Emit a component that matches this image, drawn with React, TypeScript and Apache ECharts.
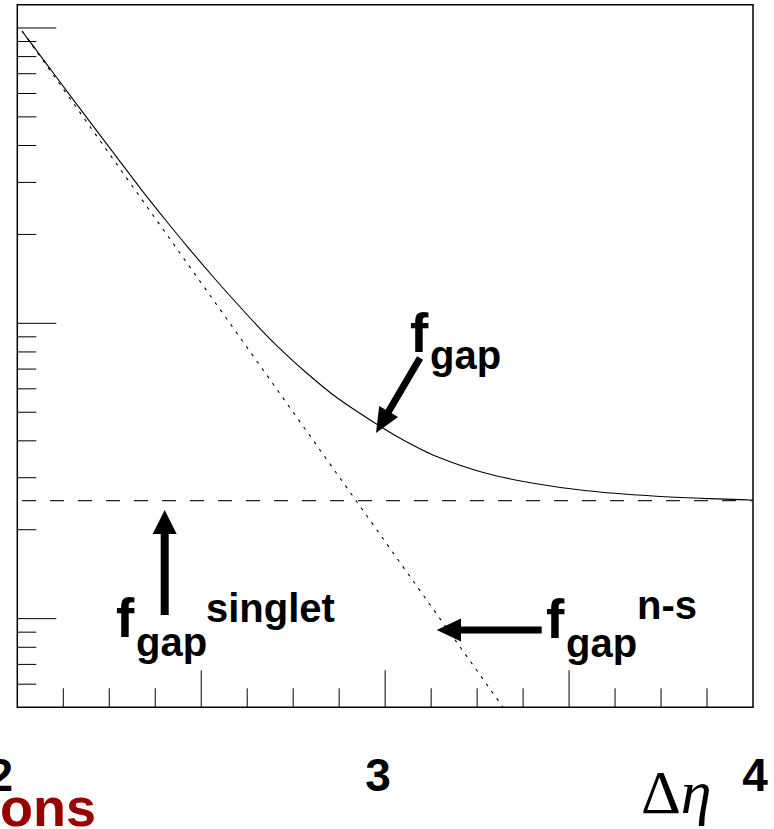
import React, { useEffect, useRef } from "react";
import * as echarts from "echarts";

// ---------------- data ----------------
// f_gap (solid curve)
const fGapX = [2.0128, 2.0435, 2.1071, 2.1705, 2.2248, 2.2702, 2.3425, 2.4062, 2.4605, 2.5328, 2.5872, 2.6508, 2.7052, 2.7867, 2.8683, 2.986, 3.0493, 3.1401, 3.2668, 3.4027, 3.5479, 3.7289, 3.8649, 3.9829, 4.0];
const fGapY = [0.9769, 0.8676, 0.6795, 0.5333, 0.4338, 0.3654, 0.2781, 0.2212, 0.183, 0.1435, 0.1204, 0.09868, 0.0841, 0.06789, 0.05607, 0.04479, 0.04025, 0.03539, 0.03124, 0.02872, 0.0271, 0.02601, 0.02555, 0.02525, 0.02521];
// f_gap^{n-s} (dotted, straight on log scale)
const nsX = [2.0128, 3.3204];
const nsY = [0.977, 0.00501];
// f_gap^{singlet} (dashed, constant)
const singletX = [2.0128, 4.0];
const singletY = [0.0251, 0.0251];

// axis ticks
const xMajorTicks = [2.5, 3, 3.5];
const xMinorTicks = [2.125, 2.25, 2.375, 2.625, 2.75, 2.875, 3.125, 3.25, 3.375, 3.625, 3.75, 3.875];
const yMajorTicks = [0.01, 0.1, 1];
const yMinorTicks = [0.006, 0.007, 0.008, 0.009, 0.02, 0.03, 0.04, 0.05, 0.06, 0.07, 0.08, 0.09, 0.2, 0.3, 0.4, 0.5, 0.6, 0.7, 0.8, 0.9];
const xTickLabelValues = [2, 3, 4];
const xTickLabels = ["2", "3", "4"];

const X_MIN = 2;
const X_MAX = 4;
const Y_MIN = 0.00501;
const Y_MAX = 1.199;

// ---------------- styling ----------------
const SANS = "'Liberation Sans', Arial, Helvetica, sans-serif";
const SERIF = "'Liberation Serif', 'Times New Roman', serif";
const X_LABEL_SIZE = 46;
const xLabelShift = [-17, -7, 2];

function txt(text: string, x: number, baseline: number, size: number, extra: any = {}) {
  // SVG renderer draws text with dominant-baseline: central
  return {
    type: "text",
    x,
    y: baseline - 0.3465 * size,
    silent: true,
    style: {
      text,
      fontFamily: SANS,
      fontWeight: "bold",
      fontSize: size,
      fill: "#000",
      align: "left",
      verticalAlign: "middle",
      ...extra,
    },
  };
}

function arrowHead(points: number[][]) {
  return { type: "polygon", silent: true, shape: { points }, style: { fill: "#000" } };
}
function shaft(x1: number, y1: number, x2: number, y2: number, w: number) {
  return { type: "line", silent: true, shape: { x1, y1, x2, y2 }, style: { stroke: "#000", lineWidth: w } };
}

export default function App() {
  const ref = useRef<HTMLDivElement>(null);

  useEffect(() => {
    if (!ref.current) return;
    const chart = echarts.init(ref.current, null, { renderer: "svg" });

    const zip = (xs: number[], ys: number[]) => xs.map((x, i) => [x, ys[i]]);

    const option: any = {
      animation: false,
      backgroundColor: "#fff",
      grid: {
        left: 17.3,
        right: 21,
        top: 4.7,
        bottom: 121.7,
        show: true,
        borderColor: "#000",
        borderWidth: 1.5,
        backgroundColor: "transparent",
        containLabel: false,
      },
      xAxis: {
        type: "value",
        min: X_MIN,
        max: X_MAX,
        axisLine: { show: false },
        axisTick: { show: false },
        axisLabel: { show: false },
        splitLine: { show: false },
      },
      yAxis: {
        type: "log",
        logBase: 10,
        min: Y_MIN,
        max: Y_MAX,
        axisLine: { show: false },
        axisTick: { show: false },
        axisLabel: { show: false },
        splitLine: { show: false },
        minorTick: { show: false },
      },
      series: [
        {
          name: "f_gap",
          type: "line",
          data: zip(fGapX, fGapY),
          showSymbol: false,
          symbol: "none",
          smooth: 0.3,
          clip: true,
          lineStyle: { color: "#000", width: 1.1 },
        },
        {
          name: "f_gap n-s",
          type: "line",
          data: zip(nsX, nsY),
          showSymbol: false,
          symbol: "none",
          clip: true,
          lineStyle: { color: "#000", width: 1.1, type: [3, 6] },
        },
        {
          name: "f_gap singlet",
          type: "line",
          data: zip(singletX, singletY),
          showSymbol: false,
          symbol: "none",
          clip: true,
          lineStyle: { color: "#222", width: 1.1, type: [14, 14] },
        },
        {
          name: "ticks",
          type: "custom",
          coordinateSystem: "cartesian2d",
          clip: false,
          silent: true,
          data: [[X_MIN, 0.1]],
          renderItem: (_params: any, api: any) => {
            const children: any[] = [];
            const tickStyle = { stroke: "#000", lineWidth: 1 };
            xMajorTicks.forEach((v) => {
              const p = api.coord([v, Y_MIN]);
              children.push({ type: "line", shape: { x1: p[0], y1: p[1], x2: p[0], y2: p[1] - 37 }, style: tickStyle });
            });
            xMinorTicks.forEach((v) => {
              const p = api.coord([v, Y_MIN]);
              children.push({ type: "line", shape: { x1: p[0], y1: p[1], x2: p[0], y2: p[1] - 19 }, style: tickStyle });
            });
            yMajorTicks.forEach((v) => {
              const p = api.coord([X_MIN, v]);
              children.push({ type: "line", shape: { x1: p[0], y1: p[1], x2: p[0] + 39, y2: p[1] }, style: tickStyle });
            });
            yMinorTicks.forEach((v) => {
              const p = api.coord([X_MIN, v]);
              children.push({ type: "line", shape: { x1: p[0], y1: p[1], x2: p[0] + 19, y2: p[1] }, style: tickStyle });
            });
            xTickLabelValues.forEach((v, i) => {
              const p = api.coord([v, Y_MIN]);
              children.push({
                type: "text",
                x: p[0] + xLabelShift[i],
                y: p[1] + 84 - 0.3465 * X_LABEL_SIZE,
                style: {
                  text: xTickLabels[i],
                  fontFamily: SANS,
                  fontWeight: "bold",
                  fontSize: X_LABEL_SIZE,
                  fill: "#000",
                  align: "center",
                  verticalAlign: "middle",
                },
              });
            });
            return { type: "group", children };
          },
        },
      ],
      graphic: [
        // arrow to f_gap curve
        shaft(420, 358, 386.1, 415.8, 7),
        arrowHead([[376, 433], [398.1, 417.0], [379.2, 405.9]]),
        // up arrow to singlet line
        shaft(164.7, 530, 164.7, 615, 8),
        arrowHead([[164.7, 510], [152.7, 534], [176.7, 534]]),
        // left arrow to n-s line
        shaft(457, 630, 541.7, 630, 7),
        arrowHead([[436.7, 630], [461, 618.5], [461, 641.5]]),

        // f_gap label
        txt("f", 410, 352, 55),
        txt("gap", 430, 369, 40),
        // f_gap^singlet
        txt("f", 116, 637, 55),
        txt("gap", 136, 656, 40),
        txt("singlet", 206, 622, 40),
        // f_gap^n-s
        txt("f", 546, 638, 55),
        txt("gap", 566, 657, 40),
        txt("n-s", 637, 619, 40),

        // axis title Δη
        {
          type: "text",
          x: 641,
          y: 813 - 0.3375 * 62,
          silent: true,
          style: {
            text: "{d|Δ}{e|η}",
            align: "left",
            verticalAlign: "middle",
            rich: {
              d: { fontFamily: SERIF, fontSize: 62, fill: "#000" },
              e: { fontFamily: SERIF, fontSize: 62, fontStyle: "italic", fill: "#000" },
            },
          },
        },
        // cropped red text at bottom-left
        txt("ons", 0, 826, 54, { fill: "#990000" }),
      ],
    };

    chart.setOption(option);
    return () => chart.dispose();
  }, []);

  return (
    <div
      ref={ref}
      style={{ position: "absolute", left: 0, top: 0, width: 774, height: 829, background: "#fff" }}
    />
  );
}
